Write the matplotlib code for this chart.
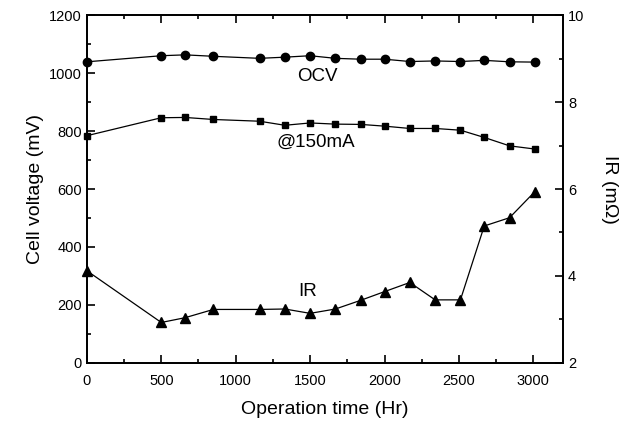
import matplotlib
matplotlib.use("Agg")
import matplotlib.pyplot as plt
from matplotlib.ticker import MultipleLocator

plt.rcParams['font.family'] = ['Liberation Sans', 'DejaVu Sans']

# operating hours for every measurement
hours = [0, 500, 660, 850, 1160, 1330, 1500, 1670, 1840, 2000, 2170, 2340, 2510, 2670, 2840, 3010]
# open circuit voltage (mV)
ocv = [1039, 1060, 1063, 1058, 1051, 1055, 1060, 1051, 1048, 1048, 1040, 1042, 1040, 1044, 1039, 1038]
# voltage under 150 mA load (mV)
v150 = [784, 846, 847, 840, 834, 820, 828, 824, 823, 817, 809, 809, 803, 778, 749, 738]
# internal resistance (mOhm)
ir = [4.12, 2.93, 3.04, 3.23, 3.23, 3.24, 3.14, 3.24, 3.44, 3.64, 3.85, 3.45, 3.45, 5.15, 5.34, 5.94]

fig = plt.figure(figsize=(6.25, 4.21), dpi=100)
ax = fig.add_axes([0.139, 0.138, 0.762, 0.826])
ax2 = ax.twinx()

ax.plot(hours, ocv, color='black', lw=0.9, marker='o', ms=6, clip_on=False, zorder=3)
ax.plot(hours, v150, color='black', lw=0.9, marker='s', ms=5, clip_on=False, zorder=3)
ax2.plot(hours, ir, color='black', lw=0.9, marker='^', ms=7, clip_on=False, zorder=3)

ax.set_xlim(0, 3200)
ax.set_ylim(0, 1200)
ax2.set_ylim(2, 10)

ax.xaxis.set_major_locator(MultipleLocator(500))
ax.xaxis.set_minor_locator(MultipleLocator(250))
ax.yaxis.set_major_locator(MultipleLocator(200))
ax.yaxis.set_minor_locator(MultipleLocator(100))
ax2.yaxis.set_major_locator(MultipleLocator(2))
ax2.yaxis.set_minor_locator(MultipleLocator(1))

ax.tick_params(which='both', direction='in', top=True, labelsize=10.5, width=1.2)
ax.tick_params(which='major', length=6)
ax.tick_params(which='minor', length=3)
ax.tick_params(axis='x', pad=8)
ax2.tick_params(which='both', direction='in', labelsize=10.5, width=1.2)
ax2.tick_params(which='major', length=6)
ax2.tick_params(which='minor', length=3)

for a in (ax, ax2):
    for s in a.spines.values():
        s.set_linewidth(1.3)

ax.set_xlabel('Operation time (Hr)', fontsize=14, labelpad=9)
ax.set_ylabel('Cell voltage (mV)', fontsize=14, labelpad=4)
ax2.set_ylabel('IR (m\u03a9)', fontsize=14, rotation=270, va='bottom', labelpad=12)

ax.text(1550, 990, 'OCV', fontsize=13.5, ha='center', va='center')
ax.text(1540, 760, '@150mA', fontsize=13.5, ha='center', va='center')
ax.text(1480, 245, 'IR', fontsize=13.5, ha='center', va='center')

fig.savefig('out.png', dpi=100)
